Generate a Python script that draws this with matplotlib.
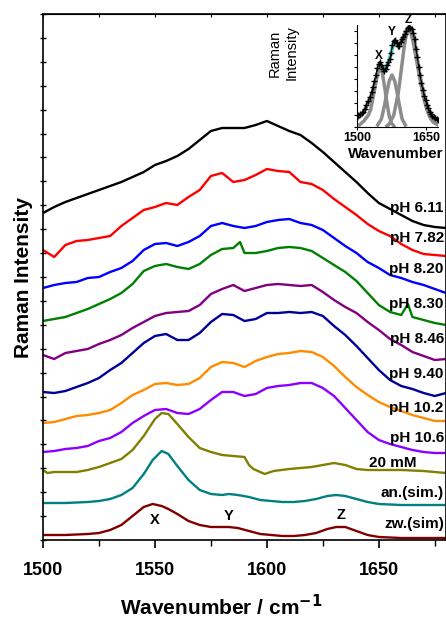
import matplotlib
matplotlib.use("Agg")
import matplotlib.pyplot as plt
from matplotlib.ticker import MultipleLocator, NullFormatter

plt.rcParams['font.family'] = ['Liberation Sans', 'DejaVu Sans']

# ---------------- main panel data ----------------
wn = list(range(1500, 1681, 5))

ph611 = [327, 333, 338, 342, 346, 350, 354, 358, 363, 368,
         375, 379, 384, 391, 400, 409, 412, 412, 412, 415,
         419, 414, 409, 405, 397, 388, 378, 368, 358, 347,
         337, 331, 325, 319, 315, 313, 312]
ph782 = [290, 283, 295, 299, 300, 302, 304, 314, 322, 330,
         333, 337, 335, 343, 350, 364, 367, 358, 360, 365,
         371, 369, 368, 358, 356, 350, 341, 333, 325, 316,
         309, 304, 296, 290, 286, 285, 284]
ph820 = [252, 255, 257, 258, 262, 263, 268, 272, 279, 290,
         296, 297, 294, 298, 304, 314, 317, 314, 312, 314,
         318, 320, 321, 317, 315, 310, 302, 294, 287, 278,
         272, 265, 262, 258, 255, 251, 247]
wn830 = [1500, 1505, 1510, 1515, 1520, 1525, 1530, 1535, 1540, 1545,
         1550, 1555, 1560, 1565, 1570, 1575, 1580, 1585, 1588, 1590,
         1595, 1600, 1605, 1610, 1615, 1620, 1625, 1630, 1635, 1640,
         1645, 1650, 1655, 1660, 1663, 1665, 1670, 1675, 1680]
ph830 = [219, 221, 223, 227, 231, 236, 241, 247, 256, 269,
         274, 276, 273, 271, 276, 285, 291, 292, 298, 287,
         287, 289, 292, 293, 292, 289, 282, 275, 268, 259,
         247, 235, 228, 225, 236, 223, 220, 217, 215]
ph846 = [185, 181, 187, 189, 191, 196, 200, 205, 212, 218,
         224, 227, 228, 229, 235, 246, 251, 255, 249, 252,
         255, 256, 255, 254, 255, 248, 240, 233, 227, 218,
         210, 201, 195, 188, 184, 180, 181]
ph940 = [148, 147, 149, 153, 157, 162, 170, 177, 187, 197,
         204, 206, 200, 200, 207, 218, 226, 225, 219, 221,
         227, 227, 228, 227, 228, 224, 214, 205, 194, 182,
         170, 160, 154, 151, 147, 144, 147]
ph102 = [117, 118, 121, 124, 125, 127, 130, 137, 145, 150,
         156, 157, 155, 156, 162, 173, 178, 177, 173, 179,
         183, 186, 187, 189, 188, 183, 174, 163, 153, 145,
         138, 133, 129, 125, 122, 119, 119]
ph106 = [88, 89, 91, 92, 94, 99, 102, 108, 117, 124,
         130, 131, 127, 126, 131, 140, 148, 148, 144, 146,
         152, 154, 155, 157, 157, 152, 144, 132, 120, 108,
         100, 96, 93, 90, 88, 87, 87]

wn20 = [1500, 1502, 1505, 1510, 1515, 1520, 1525, 1530, 1535, 1540,
        1545, 1550, 1553, 1556, 1560, 1565, 1570, 1575, 1580, 1585,
        1590, 1592, 1594, 1599, 1603, 1610, 1615, 1620, 1625, 1630,
        1635, 1640, 1645, 1650, 1660, 1670, 1680]
mm20 = [70, 67, 68, 68, 68, 70, 73, 77, 81, 90,
        104, 121, 127, 126, 116, 103, 92, 88, 85, 84,
        83, 75, 71, 66, 69, 71, 72, 73, 75, 77,
        75, 71, 70, 70, 70, 69, 67]

wnsim = [1500, 1510, 1520, 1525, 1530, 1535, 1540, 1545, 1549, 1553,
         1556, 1560, 1565, 1570, 1575, 1580, 1583, 1587, 1592, 1597,
         1602, 1607, 1612, 1617, 1622, 1627, 1631, 1635, 1640, 1645,
         1650, 1660, 1670, 1680]
an_sim = [37, 37, 38, 39, 41, 45, 52, 66, 80, 89,
          86, 74, 60, 50, 46, 45, 46, 45, 43, 40,
          39, 38, 38, 39, 41, 44, 45, 44, 41, 38,
          36, 35, 35, 35]
zw_sim = [5, 5, 6, 7, 10, 15, 24, 33, 36, 34,
          31, 26, 19, 15, 13, 13, 13, 12, 9, 6,
          5, 4, 4, 5, 7, 11, 13, 13, 9, 5,
          3, 2, 2, 2]

labels = ["pH 6.11", "pH 7.82", "pH 8.20", "pH 8.30", "pH 8.46",
          "pH 9.40", "pH 10.2", "pH 10.6", "20 mM", "an.(sim.)", "zw.(sim)"]
label_y = [328, 298, 267, 232, 197, 162, 128, 98, 73, 43, 12]
label_x = [1679, 1679, 1679, 1679, 1679, 1679, 1679, 1679, 1667, 1679, 1679]
colors = ["#000000", "#ff0000", "#0000ff", "#008000", "#800080",
          "#000099", "#ff8c00", "#8c00ff", "#808000", "#008080", "#800000"]

peak_names = ["X", "Y", "Z"]
peak_x = [1550, 1583, 1633]
peak_y = [16, 20, 21]

# ---------------- inset data ----------------
in_wn = [1500, 1503, 1506, 1510, 1513, 1517, 1520, 1524, 1528, 1532,
         1535, 1538, 1541, 1544, 1547, 1550, 1553, 1556, 1559, 1562,
         1565, 1568, 1571, 1574, 1577, 1580, 1583, 1586, 1589, 1592,
         1595, 1598, 1601, 1604, 1607, 1610, 1613, 1616, 1619, 1622,
         1625, 1628, 1631, 1634, 1637, 1640, 1643, 1646, 1649, 1652,
         1655, 1658, 1661, 1664, 1667, 1670, 1673, 1676]
in_data = [10, 12, 13, 14, 15, 18, 22, 26, 30, 35,
           40, 46, 52, 59, 63, 65, 62, 58, 56, 58,
           62, 65, 68, 74, 82, 86, 87, 84, 81, 81,
           85, 88, 90, 93, 96, 99, 100, 99, 98, 94,
           88, 78, 70, 60, 52, 44, 37, 31, 27, 22,
           19, 15, 13, 11, 10, 9, 8, 7]
cyan_wn = [1556, 1559, 1562, 1565, 1568, 1571, 1574, 1577, 1580, 1583, 1586, 1589]
cyan_val = [58, 56, 58, 62, 65, 68, 74, 82, 86, 87, 84, 81]

gx_wn = [1505, 1515, 1525, 1530, 1535, 1540, 1545, 1550, 1555, 1560, 1565, 1570, 1575, 1580]
gx_val = [2, 6, 12, 18, 30, 42, 54, 59, 54, 40, 24, 11, 4, 1]
gy_wn = [1545, 1553, 1560, 1565, 1570, 1576, 1582, 1587, 1592, 1598, 1605]
gy_val = [2, 8, 22, 35, 46, 52, 46, 35, 22, 8, 2]
gz_wn = [1565, 1570, 1580, 1590, 1597, 1603, 1608, 1612, 1617, 1622,
         1628, 1634, 1640, 1646, 1652, 1658, 1665, 1676]
gz_val = [1, 3, 12, 35, 60, 82, 94, 97, 94, 85,
          70, 55, 40, 27, 17, 10, 5, 2]
env_wn = [1500, 1510, 1520, 1530, 1540, 1547, 1552, 1558, 1564, 1570,
          1576, 1582, 1588, 1594, 1600, 1606, 1612, 1618, 1624, 1630,
          1636, 1642, 1648, 1654, 1660, 1668, 1676]
env_val = [8, 12, 20, 30, 46, 58, 62, 58, 60, 66,
           78, 86, 82, 84, 90, 96, 100, 98, 90, 72,
           54, 40, 28, 19, 13, 9, 7]

in_names = ["X", "Y", "Z"]
in_name_x = [1548, 1576, 1611]
in_name_y = [68, 92, 104]

# ---------------- figure ----------------
W, H = 446, 618
fig = plt.figure(figsize=(W / 100, H / 100), dpi=100)
ax = fig.add_axes([43 / W, 78 / H, 403 / W, 526 / H])

series = [(wn, ph611), (wn, ph782), (wn, ph820), (wn830, ph830), (wn, ph846),
          (wn, ph940), (wn, ph102), (wn, ph106), (wn20, mm20),
          (wnsim, an_sim), (wnsim, zw_sim)]
for (xs, ys), c in zip(series, colors):
    ax.plot(xs, ys, color=c, lw=1.7, solid_joinstyle='round')

for t, x, y in zip(labels, label_x, label_y):
    ax.text(x, y, t, ha='right', va='baseline', fontsize=11, fontweight='bold')
for t, x, y in zip(peak_names, peak_x, peak_y):
    ax.text(x, y, t, ha='center', va='baseline', fontsize=10.5, fontweight='bold')

ax.set_xlim(1500, 1680)
ax.set_ylim(0, 526)
ax.set_yticks([i * 526 / 22 for i in range(23)])
ax.yaxis.set_major_formatter(NullFormatter())
ax.tick_params(axis='y', direction='inout', length=4, width=1)
ax.xaxis.set_major_locator(MultipleLocator(50))
ax.xaxis.set_minor_locator(MultipleLocator(25))
ax.tick_params(axis='x', which='major', direction='out', length=6, width=1.2,
               pad=10, labelsize=13)
ax.tick_params(axis='x', which='minor', direction='out', length=4, width=1)
for lab in ax.get_xticklabels():
    lab.set_fontweight('bold')
for s in ax.spines.values():
    s.set_linewidth(1.2)

sec = ax.secondary_xaxis('top')
sec.xaxis.set_major_locator(MultipleLocator(25))
sec.tick_params(direction='in', length=2.5, width=0.8, labeltop=False)

fig.text(221 / W, 1 - 615 / H, "Wavenumber / cm$^{\\mathbf{-1}}$", ha='center',
         va='baseline', fontsize=15, fontweight='bold')
fig.text(24 / W, 1 - 278 / H, "Raman Intensity", rotation=90, ha='center',
         va='center', fontsize=15, fontweight='bold')

# ---------------- inset ----------------
axi = fig.add_axes([357 / W, 1 - 127 / H, 81 / W, 102 / H])
axi.patch.set_alpha(0)
axi.plot(env_wn, env_val, color='#8c8c8c', lw=2.5)
axi.plot(gx_wn, gx_val, color='#8c8c8c', lw=2.5)
axi.plot(gy_wn, gy_val, color='#8c8c8c', lw=2.5)
axi.plot(gz_wn, gz_val, color='#8c8c8c', lw=2.5)
axi.plot(cyan_wn, cyan_val, color='#00ffff', lw=2)
axi.plot(in_wn, in_data, color='black', lw=0.8, marker='+', ms=5, mew=1)
for t, x, y in zip(in_names, in_name_x, in_name_y):
    axi.text(x, y, t, ha='center', va='baseline', fontsize=8.5, fontweight='bold')
axi.set_xlim(1500, 1676)
axi.set_ylim(0, 102)
axi.spines['top'].set_visible(False)
axi.spines['right'].set_visible(False)
axi.set_xticks([1500, 1650])
axi.set_yticks([i * 12 for i in range(9)])
axi.yaxis.set_major_formatter(NullFormatter())
axi.tick_params(axis='x', length=2, pad=1.5, labelsize=9)
axi.tick_params(axis='y', length=2)
for lab in axi.get_xticklabels():
    lab.set_fontweight('bold')
fig.text(396 / W, 1 - 158 / H, "Wavenumber", ha='center', va='baseline',
         fontsize=11, fontweight='bold')
fig.text(283 / W, 1 - 53 / H, "Raman\nIntensity", rotation=90, ha='center',
         va='center', fontsize=10.5, multialignment='center', linespacing=1.3)

fig.savefig("out.png", dpi=100)
